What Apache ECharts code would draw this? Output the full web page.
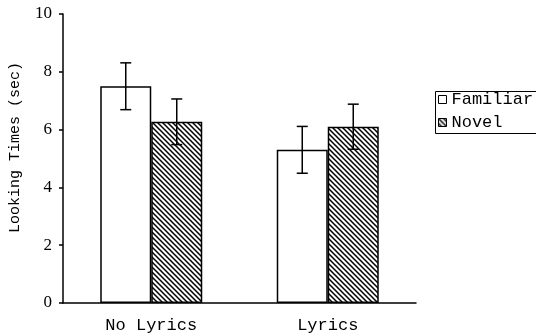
<!DOCTYPE html>
<html>
<head>
<meta charset="utf-8">
<script src="https://cdn.jsdelivr.net/npm/echarts@6/dist/echarts.min.js"></script>
<style>html,body{margin:0;padding:0;background:#fff}#c{width:536px;height:334px}</style>
</head>
<body>
<div id="c"></div>
<script>
var categories = ['No Lyrics', 'Lyrics'];
var seriesNames = ['Familiar', 'Novel'];
var familiar = [7.5, 5.3];
var novel = [6.27, 6.1];
var familiarErr = [0.81, 0.81];
var novelErr = [0.79, 0.78];
var yTicks = [0, 2, 4, 6, 8, 10];

var MONO = '"Liberation Mono", "Courier New", monospace';
var SERIF = '"Liberation Serif", "Times New Roman", serif';
var BAR_W = 51;

function hatch() {
  var s = 5;
  var c = document.createElement('canvas');
  c.width = s; c.height = s;
  var g = c.getContext('2d');
  g.fillStyle = '#fff'; g.fillRect(0, 0, s, s);
  g.strokeStyle = '#000'; g.lineWidth = 1.5;
  g.beginPath();
  g.moveTo(-1, -1); g.lineTo(s + 1, s + 1);
  g.moveTo(-1, s - 1); g.lineTo(1, s + 1);
  g.moveTo(s - 1, -1); g.lineTo(s + 1, 1);
  g.stroke();
  return c;
}

function errSeries(vals, errs, offset) {
  return {
    type: 'custom',
    silent: true,
    z: 10,
    data: vals.map(function (v, i) { return [i, v - errs[i], v + errs[i]]; }),
    renderItem: function (params, api) {
      var lo = api.coord([api.value(0), api.value(1)]);
      var hi = api.coord([api.value(0), api.value(2)]);
      var x = lo[0] + offset;
      var cap = 5.5;
      var st = { stroke: '#000', lineWidth: 1.5 };
      return {
        type: 'group',
        children: [
          { type: 'line', shape: { x1: x, y1: lo[1], x2: x, y2: hi[1] }, style: st },
          { type: 'line', shape: { x1: x - cap, y1: lo[1], x2: x + cap, y2: lo[1] }, style: st },
          { type: 'line', shape: { x1: x - cap, y1: hi[1], x2: x + cap, y2: hi[1] }, style: st }
        ]
      };
    }
  };
}

var chart = echarts.init(document.getElementById('c'));
chart.setOption({
  animation: false,
  backgroundColor: '#fff',
  grid: { left: 62, right: 120, top: 14, bottom: 31 },
  legend: {
    orient: 'vertical',
    left: 433,
    top: 86,
    itemWidth: 8,
    itemHeight: 8,
    itemGap: 6,
    itemTextGap: 0,
    icon: 'rect',
    itemStyle: { borderColor: '#000', borderWidth: 1 },
    data: seriesNames,
    textStyle: { fontFamily: MONO, fontSize: 17, color: '#000', lineHeight: 17 }
  },
  graphic: [{
    type: 'rect',
    left: 433, top: 89,
    shape: { width: 130, height: 42 },
    style: { fill: 'none', stroke: '#000', lineWidth: 1 },
    z: 0
  }],
  xAxis: {
    type: 'category',
    data: categories,
    axisLine: { lineStyle: { color: '#000', width: 1.5 } },
    axisTick: { show: false },
    axisLabel: { color: '#000', fontFamily: MONO, fontSize: 17, margin: 14 }
  },
  yAxis: {
    type: 'value',
    min: 0, max: 10, interval: 2,
    name: 'Looking Times (sec)',
    nameLocation: 'middle',
    nameGap: 40,
    nameTextStyle: { color: '#000', fontFamily: MONO, fontSize: 15, padding: [0, 0, 0, 22] },
    splitLine: { show: false },
    axisLine: { show: true, lineStyle: { color: '#000', width: 1.5 } },
    axisTick: { show: true, length: 4, lineStyle: { color: '#000', width: 1.5 } },
    axisLabel: {
      color: '#000', fontFamily: SERIF, fontSize: 17, margin: 11,
      formatter: function (v) { return yTicks.indexOf(v) >= 0 ? String(v) : ''; }
    }
  },
  series: [
    {
      name: seriesNames[0], type: 'bar', data: familiar,
      barWidth: BAR_W, barGap: '0%',
      itemStyle: { color: '#fff', borderColor: '#000', borderWidth: 1.5 }
    },
    {
      name: seriesNames[1], type: 'bar', data: novel,
      barWidth: BAR_W, barGap: '0%',
      itemStyle: { color: { image: hatch(), repeat: 'repeat' }, borderColor: '#000', borderWidth: 1.5 }
    },
    errSeries(familiar, familiarErr, -BAR_W / 2),
    errSeries(novel, novelErr, BAR_W / 2)
  ]
});
</script>
</body>
</html>
